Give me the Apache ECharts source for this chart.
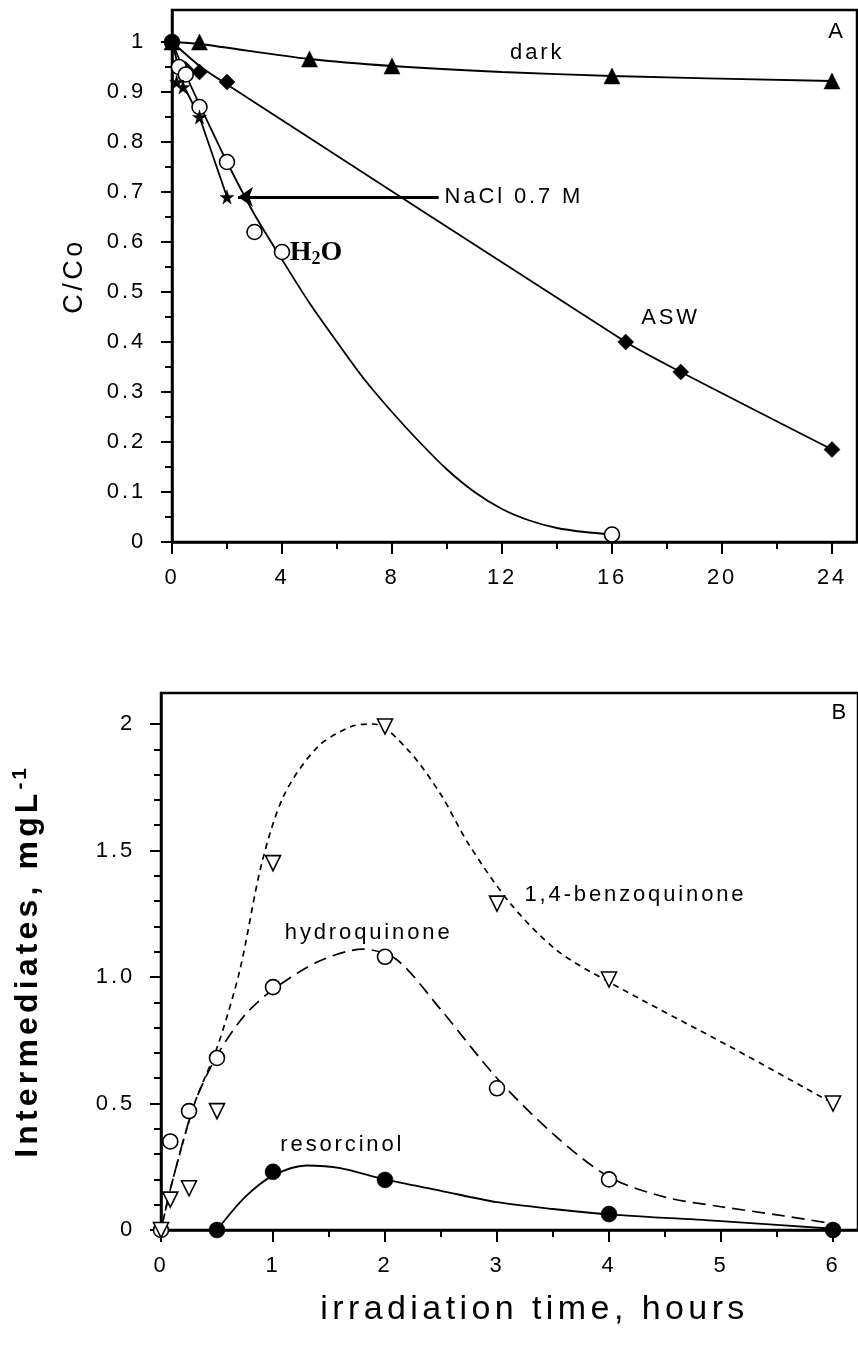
<!DOCTYPE html>
<html><head><meta charset="utf-8">
<script src="https://cdn.jsdelivr.net/npm/echarts@6/dist/echarts.min.js"></script>
<style>html,body{margin:0;padding:0;background:#fff}#c{width:858px;height:1349px}</style>
</head><body><div id="c"></div>
<script>
// ---------- Panel A : C/Co vs time (h) ----------
const darkT = [0, 1, 5, 8, 16, 24];
const darkV = [1.0, 1.0, 0.966, 0.952, 0.932, 0.922];
const darkCurveT = [0, 1, 5, 8, 12, 16, 24];
const darkCurveV = [1.0, 0.996, 0.966, 0.952, 0.94, 0.932, 0.922];

const aswT = [0.25, 0.5, 1, 2, 16.5, 18.5, 24];
const aswV = [0.95, 0.945, 0.94, 0.92, 0.40, 0.34, 0.185];
const aswCurveT = [0, 1, 2, 16.5, 18.5, 24];
const aswCurveV = [1.0, 0.952, 0.915, 0.40, 0.34, 0.185];

const naclT = [0.17, 0.4, 1, 2];
const naclV = [0.92, 0.91, 0.85, 0.69];
const naclCurveT = [0, 0.4, 1, 2];
const naclCurveV = [1.0, 0.915, 0.85, 0.69];

const h2oT = [0.25, 0.5, 1, 2, 3, 4, 16];
const h2oV = [0.95, 0.935, 0.87, 0.76, 0.62, 0.58, 0.015];
const h2oCurveT = [0, 0.5, 1, 2, 3, 4, 5, 6, 7, 8, 9, 10, 11, 12, 13, 14, 15, 16];
const h2oCurveV = [1.0, 0.935, 0.875, 0.76, 0.655, 0.565, 0.478, 0.40, 0.325, 0.26, 0.2, 0.145, 0.1, 0.066, 0.043, 0.028, 0.02, 0.015];

const startT = [0];
const startV = [1.0];

const arrowFromT = 9.7, arrowToT = 2.4, arrowV = 0.69;

const aXTicks = [0, 4, 8, 12, 16, 20, 24];
const aXLabels = ['0', '4', '8', '12', '16', '20', '24'];
const aXMinor = [2, 6, 10, 14, 18, 22];
const aYTicks = [0, 0.1, 0.2, 0.3, 0.4, 0.5, 0.6, 0.7, 0.8, 0.9, 1.0];
const aYLabels = ['0', '0.1', '0.2', '0.3', '0.4', '0.5', '0.6', '0.7', '0.8', '0.9', '1'];
const aYMinor = [0.05, 0.15, 0.25, 0.35, 0.45, 0.55, 0.65, 0.75, 0.85, 0.95];

// ---------- Panel B : intermediates (mg/L) vs irradiation time (h) ----------
const benzoT = [0, 0.083, 0.25, 0.5, 1, 2, 3, 4, 6];
const benzoV = [0, 0.12, 0.165, 0.47, 1.45, 1.99, 1.29, 0.99, 0.50];
const benzoCurveT = [0, 0.1, 0.3, 0.5, 0.7, 0.9, 1.1, 1.4, 1.7, 1.9, 2.2, 2.5, 2.74, 3.12, 3.53, 4, 5.1, 6];
const benzoCurveV = [0, 0.19, 0.5, 0.72, 1.02, 1.45, 1.72, 1.91, 1.99, 2.0, 1.9, 1.72, 1.53, 1.29, 1.107, 0.98, 0.72, 0.50];

const hydroT = [0, 0.083, 0.25, 0.5, 1, 2, 3, 4];
const hydroV = [0, 0.35, 0.47, 0.68, 0.96, 1.08, 0.56, 0.20];
const hydroCurveT = [0, 0.1, 0.3, 0.5, 0.75, 1, 1.4, 1.8, 2.1, 2.5, 3, 3.5, 4, 4.5, 5, 5.5, 6];
const hydroCurveV = [0, 0.19, 0.5, 0.69, 0.85, 0.95, 1.06, 1.11, 1.07, 0.87, 0.6, 0.38, 0.21, 0.13, 0.092, 0.06, 0.025];

const resT = [0.5, 1, 2, 4, 6];
const resV = [0, 0.23, 0.198, 0.063, 0.0];
const resCurveT = [0.5, 0.75, 1, 1.3, 1.6, 2, 2.5, 3, 3.5, 4, 5, 6];
const resCurveV = [0, 0.13, 0.215, 0.255, 0.245, 0.2, 0.155, 0.11, 0.083, 0.062, 0.035, 0.005];

const bXTicks = [0, 1, 2, 3, 4, 5, 6];
const bXLabels = ['0', '1', '2', '3', '4', '5', '6'];
const bXMinor = [0.5, 1.5, 2.5, 3.5, 4.5, 5.5];
const bYTicks = [0, 0.5, 1.0, 1.5, 2.0];
const bYLabels = ['0', '0.5', '1.0', '1.5', '2'];
const bYMinor = [0.1, 0.2, 0.3, 0.4, 0.6, 0.7, 0.8, 0.9, 1.1, 1.2, 1.3, 1.4, 1.6, 1.7, 1.8, 1.9];

// annotations (anchor in data units)
const aNotes = [
  {text: 'dark', t: 13.3, v: 0.978, align: 'center'},
  {text: 'ASW', t: 18.15, v: 0.448, align: 'center'},
  {text: 'NaCl 0.7 M', t: 9.93, v: 0.69, align: 'left'},
  {text: 'H2O', t: 4.3, v: 0.578, align: 'left'},
  {text: 'A', t: 24.2, v: 1.02, align: 'center'}
];
const bNotes = [
  {text: '1,4-benzoquinone', t: 3.25, v: 1.324, align: 'left'},
  {text: 'hydroquinone', t: 1.11, v: 1.174, align: 'left'},
  {text: 'resorcinol', t: 1.07, v: 0.336, align: 'left'},
  {text: 'B', t: 6.07, v: 2.04, align: 'center'}
];

// ---------- text tracking (the original uses widely spaced lettering) ----------
(function () {
  const P = CanvasRenderingContext2D.prototype;
  if (!('letterSpacing' in P)) return;
  const pick = ctx => {
    const f = ctx.font || '';
    if (/Serif/.test(f)) return '0px';
    const m = f.match(/([\d.]+)px/);
    const s = m ? parseFloat(m[1]) : 12;
    return (s * 0.13).toFixed(2) + 'px';
  };
  const fT = P.fillText, mT = P.measureText;
  P.fillText = function (t, x, y, w) { this.letterSpacing = pick(this); return w === undefined ? fT.call(this, t, x, y) : fT.call(this, t, x, y, w); };
  P.measureText = function (t) { this.letterSpacing = pick(this); return mT.call(this, t); };
})();

const FONT = 'Liberation Sans';
const zip = (a, b) => a.map((x, i) => [x, b[i]]);
const fmt = (vals, labels) => v => { const i = vals.findIndex(x => Math.abs(x - v) < 1e-6); return i >= 0 ? labels[i] : ''; };
const BLACK = '#000';

const gA = {left: 172, top: 10, width: 685, height: 532};
const gB = {left: 161, top: 693, width: 697, height: 537};
const aXMax = 24.91, aYMax = 1.064, bXMax = 6.223, bYMax = 2.1225;

function mainX(grid, max, ticks, labels, extra) {
  return Object.assign({
    gridIndex: grid, type: 'value', min: 0, max: max, position: 'bottom',
    axisLine: {show: true, onZero: false, lineStyle: {color: BLACK, width: 2.5}},
    axisTick: {show: true, length: 12, customValues: ticks, lineStyle: {color: BLACK, width: 2}},
    axisLabel: {show: true, customValues: ticks, formatter: fmt(ticks, labels), margin: 24, color: BLACK, fontFamily: FONT, fontSize: 22},
    splitLine: {show: false}
  }, extra || {});
}
function minorX(grid, max, ticks, gridH) {
  return {
    gridIndex: grid, type: 'value', min: 0, max: max, position: 'top', offset: -gridH,
    axisLine: {show: false, onZero: false},
    axisTick: {show: true, inside: true, length: 7, customValues: ticks, lineStyle: {color: BLACK, width: 2}},
    axisLabel: {show: false}, splitLine: {show: false}
  };
}
function mainY(grid, max, ticks, labels, extra) {
  return Object.assign({
    gridIndex: grid, type: 'value', min: 0, max: max, position: 'left',
    axisLine: {show: true, onZero: false, lineStyle: {color: BLACK, width: 2.5}},
    axisTick: {show: true, length: 11, customValues: ticks, lineStyle: {color: BLACK, width: 2}},
    axisLabel: {show: true, customValues: ticks, formatter: fmt(ticks, labels), margin: 26, color: BLACK, fontFamily: FONT, fontSize: 22},
    splitLine: {show: false}
  }, extra || {});
}
function minorY(grid, max, ticks, gridW) {
  return {
    gridIndex: grid, type: 'value', min: 0, max: max, position: 'right', offset: -gridW,
    axisLine: {show: false, onZero: false},
    axisTick: {show: true, inside: true, length: 7, customValues: ticks, lineStyle: {color: BLACK, width: 2}},
    axisLabel: {show: false}, splitLine: {show: false}
  };
}

const STAR = 'path://M50,0 L61,35 L98,35 L68,57 L79,91 L50,70 L21,91 L32,57 L2,35 L39,35 Z';
const DOWN_TRI = 'path://M0,0 L100,0 L50,87 Z';

function curve(xi, yi, data, lineStyle, smooth) {
  return {type: 'line', xAxisIndex: xi, yAxisIndex: yi, data: data, symbol: 'none', smooth: smooth === undefined ? 0.3 : smooth,
    lineStyle: Object.assign({color: BLACK, width: 1.8}, lineStyle || {}), z: 2, silent: true};
}
function marks(xi, yi, data, symbol, size, open) {
  return {type: 'scatter', xAxisIndex: xi, yAxisIndex: yi, data: data, symbol: symbol, symbolSize: size,
    itemStyle: open ? {color: '#fff', borderColor: BLACK, borderWidth: 1.6, opacity: 1} : {color: BLACK, borderColor: BLACK, borderWidth: 0.5, opacity: 1}, z: 4, silent: true};
}
function notes(xi, yi, list) {
  return {type: 'scatter', xAxisIndex: xi, yAxisIndex: yi, symbolSize: 1, itemStyle: {color: 'rgba(0,0,0,0)', opacity: 1}, z: 5, silent: true,
    data: list.map(n => ({value: [n.t, n.v], name: n.text, label: {align: n.align}})),
    label: {show: true, position: [0, 0], verticalAlign: 'middle', color: BLACK, fontFamily: FONT, fontSize: 22,
      formatter: p => p.name === 'H2O' ? '{b|H}{s|2}{b|O}' : (p.name.length === 1 ? '{big|' + p.name + '}' : p.name),
      rich: {
        b: {fontFamily: 'Liberation Serif', fontWeight: 'bold', fontSize: 28, color: BLACK},
        s: {fontFamily: 'Liberation Serif', fontWeight: 'bold', fontSize: 18, color: BLACK, padding: [13, 0, 0, 0]},
        big: {fontFamily: FONT, fontSize: 22, color: BLACK}
      }}
  };
}

const option = {
  animation: false,
  backgroundColor: '#fff',
  grid: [
    Object.assign({show: true, borderColor: BLACK, borderWidth: 2.5, backgroundColor: 'transparent'}, gA),
    Object.assign({show: true, borderColor: BLACK, borderWidth: 2.5, backgroundColor: 'transparent'}, gB)
  ],
  xAxis: [
    mainX(0, aXMax, aXTicks, aXLabels),
    minorX(0, aXMax, aXMinor, gA.height),
    mainX(1, bXMax, bXTicks, bXLabels, {
      name: 'irradiation time, hours', nameLocation: 'middle', nameGap: 60,
      nameTextStyle: {color: BLACK, fontFamily: FONT, fontSize: 34, padding: [0, 0, 0, 50]}
    }),
    minorX(1, bXMax, bXMinor, gB.height)
  ],
  yAxis: [
    mainY(0, aYMax, aYTicks, aYLabels, {
      name: 'C/Co', nameLocation: 'middle', nameGap: 82,
      nameTextStyle: {color: BLACK, fontFamily: FONT, fontSize: 27}
    }),
    minorY(0, aYMax, aYMinor, gA.width),
    mainY(1, bYMax, bYTicks, bYLabels, {
      name: '{a|Intermediates, mgL}{s|-1}', nameLocation: 'middle', nameGap: 112,
      nameTextStyle: {color: BLACK, rich: {
        a: {fontFamily: FONT, fontWeight: 'bold', fontSize: 32, color: BLACK},
        s: {fontFamily: FONT, fontWeight: 'bold', fontSize: 21, color: BLACK, padding: [0, 0, 17, 0]}
      }}
    }),
    minorY(1, bYMax, bYMinor, gB.width)
  ],
  series: [
    // Panel A
    curve(0, 0, zip(darkCurveT, darkCurveV)),
    curve(0, 0, zip(aswCurveT, aswCurveV), {}, 0.15),
    curve(0, 0, zip(naclCurveT, naclCurveV), {}, false),
    curve(0, 0, zip(h2oCurveT, h2oCurveV)),
    marks(0, 0, zip(darkT, darkV), 'triangle', 16, false),
    marks(0, 0, zip(aswT, aswV), 'diamond', 16, false),
    marks(0, 0, zip(h2oT, h2oV), 'circle', 15, true),
    marks(0, 0, zip(naclT, naclV), STAR, 14, false),
    marks(0, 0, zip(startT, startV), 'circle', 16, false),
    {type: 'line', xAxisIndex: 0, yAxisIndex: 0, data: [], silent: true,
      markLine: {silent: true, symbol: ['none', 'arrow'], symbolSize: 15, label: {show: false},
        lineStyle: {color: BLACK, width: 3, type: 'solid'},
        data: [[{coord: [arrowFromT, arrowV]}, {coord: [arrowToT, arrowV]}]]}},
    notes(0, 0, aNotes),
    // Panel B
    curve(2, 2, zip(benzoCurveT, benzoCurveV), {type: [6, 5], width: 1.7}),
    curve(2, 2, zip(hydroCurveT, hydroCurveV), {type: [13, 7], width: 1.7}),
    curve(2, 2, zip(resCurveT, resCurveV)),
    marks(2, 2, zip(hydroT, hydroV), 'circle', 15, true),
    marks(2, 2, zip(benzoT, benzoV), DOWN_TRI, 15, true),
    marks(2, 2, zip(resT, resV), 'circle', 16, false),
    notes(2, 2, bNotes)
  ]
};

const chart = echarts.init(document.getElementById('c'), null, {renderer: 'canvas', width: 858, height: 1349});
chart.setOption(option);
</script>
</body></html>
